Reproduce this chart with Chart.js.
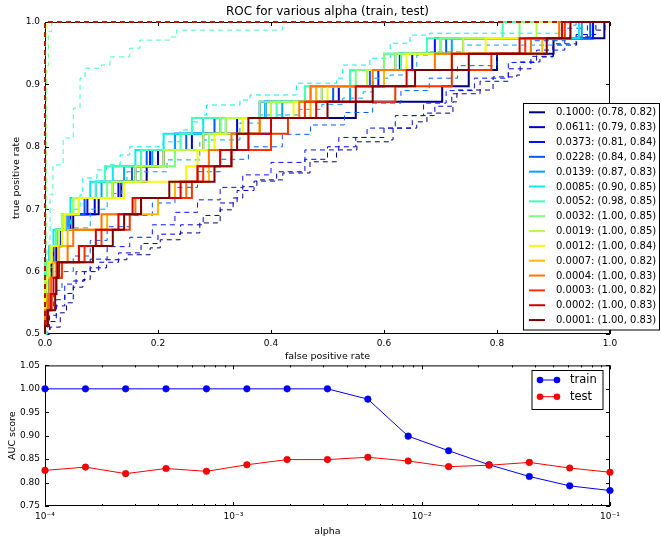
<!DOCTYPE html>
<html>
<head>
<meta charset="utf-8">
<script src="https://cdn.jsdelivr.net/npm/chart.js@4.4.1/dist/chart.umd.min.js"></script>
<style>
  html, body { margin: 0; padding: 0; background: #fff; }
  #wrap { position: relative; width: 661px; height: 538px; }
  #roc { position: absolute; left: 0; top: 0; }
  #auc { position: absolute; left: 0; top: 355px; }
</style>
</head>
<body>
<div id="wrap">
  <canvas id="roc" width="661" height="370"></canvas>
  <canvas id="auc" width="661" height="183"></canvas>
</div>
<script>
const FONT = 'DejaVu Sans';

// alphas, ascending (legend lists them descending)
const ALPHAS = [0.0001, 0.000164, 0.000268, 0.000439, 0.00072, 0.00118, 0.00193, 0.00316,
  0.00518, 0.00848, 0.0139, 0.0228, 0.0373, 0.0611, 0.1];
const TRAIN_AUC = [1.0, 1.0, 1.0, 1.0, 1.0, 1.0, 1.0, 1.0, 0.978, 0.899, 0.868, 0.838, 0.813, 0.793, 0.783];
const TEST_AUC = [0.826, 0.833, 0.819, 0.830, 0.824, 0.838, 0.849, 0.849, 0.854, 0.846, 0.834, 0.837, 0.843, 0.831, 0.822];

// test-set tpr steps visible above 0.5
const TPR_LEVELS = [0.513, 0.538, 0.564, 0.590, 0.615, 0.641, 0.667, 0.692, 0.718, 0.744,
  0.769, 0.795, 0.821, 0.846, 0.872, 0.897, 0.923, 0.949, 0.974, 1.000];

// fpr at which each test curve reaches TPR_LEVELS[k]
const TEST_FPR_0001 = [0, 0.005, 0.018, 0.02, 0.022, 0.085, 0.12, 0.14, 0.17, 0.22, 0.3, 0.33, 0.34, 0.36, 0.5, 0.58, 0.655, 0.75, 0.888, 0.93];
const TEST_FPR_0002 = [0, 0.004, 0.01, 0.015, 0.025, 0.06, 0.09, 0.13, 0.155, 0.24, 0.27, 0.31, 0.36, 0.4, 0.48, 0.55, 0.64, 0.72, 0.84, 0.915];
const TEST_FPR_0003 = [0, 0.005, 0.012, 0.02, 0.03, 0.07, 0.1, 0.15, 0.17, 0.26, 0.28, 0.33, 0.4, 0.43, 0.46, 0.62, 0.72, 0.79, 0.85, 0.92];
const TEST_FPR_0004 = [0, 0, 0.005, 0.01, 0.02, 0.04, 0.05, 0.1, 0.16, 0.25, 0.27, 0.29, 0.33, 0.38, 0.45, 0.47, 0.58, 0.69, 0.86, 0.91];
const TEST_FPR_0007 = [0, 0, 0.004, 0.008, 0.015, 0.025, 0.04, 0.11, 0.2, 0.23, 0.29, 0.31, 0.36, 0.38, 0.47, 0.48, 0.6, 0.72, 0.88, 0.915];
const TEST_FPR_0012 = [0, 0, 0, 0.004, 0.008, 0.012, 0.03, 0.035, 0.06, 0.14, 0.25, 0.27, 0.3, 0.35, 0.44, 0.5, 0.6, 0.64, 0.78, 0.92];
const TEST_FPR_0019 = [0, 0, 0, 0, 0.005, 0.01, 0.025, 0.03, 0.05, 0.12, 0.16, 0.21, 0.28, 0.32, 0.4, 0.49, 0.57, 0.62, 0.74, 0.87];
const TEST_FPR_0032 = [0, 0, 0, 0, 0.004, 0.01, 0.02, 0.035, 0.06, 0.11, 0.17, 0.23, 0.29, 0.31, 0.38, 0.48, 0.55, 0.6, 0.7, 0.84];
const TEST_FPR_0052 = [0, 0, 0, 0, 0, 0.01, 0.02, 0.03, 0.05, 0.09, 0.106, 0.17, 0.24, 0.26, 0.41, 0.46, 0.54, 0.63, 0.676, 0.81];
const TEST_FPR_0085 = [0, 0, 0, 0, 0.004, 0.008, 0.015, 0.03, 0.045, 0.08, 0.12, 0.16, 0.21, 0.28, 0.39, 0.47, 0.54, 0.6, 0.7, 0.945];
const TEST_FPR_0139 = [0, 0, 0, 0.004, 0.006, 0.01, 0.02, 0.04, 0.06, 0.1, 0.14, 0.19, 0.23, 0.32, 0.42, 0.54, 0.6, 0.63, 0.72, 0.95];
const TEST_FPR_0228 = [0, 0, 0, 0.004, 0.005, 0.008, 0.02, 0.035, 0.07, 0.09, 0.154, 0.18, 0.25, 0.3, 0.39, 0.51, 0.575, 0.62, 0.71, 0.965];
const TEST_FPR_0373 = [0, 0, 0.004, 0.005, 0.007, 0.01, 0.02, 0.04, 0.075, 0.12, 0.16, 0.186, 0.23, 0.31, 0.38, 0.49, 0.59, 0.628, 0.69, 0.97];
const TEST_FPR_0611 = [0, 0, 0.004, 0.006, 0.01, 0.015, 0.027, 0.045, 0.088, 0.13, 0.17, 0.2, 0.26, 0.34, 0.39, 0.52, 0.6, 0.65, 0.74, 0.97];
const TEST_FPR_1000 = [0, 0.004, 0.006, 0.01, 0.012, 0.02, 0.03, 0.05, 0.095, 0.135, 0.18, 0.21, 0.28, 0.4, 0.55, 0.703, 0.75, 0.8, 0.9, 0.99];

// train curves as [fpr, tpr] corners
const TRAIN_ROC_0001 = [[0, 0.5], [0, 1], [1, 1]];
const TRAIN_ROC_0002 = [[0, 0.5], [0, 1], [1, 1]];
const TRAIN_ROC_0003 = [[0, 0.5], [0, 1], [1, 1]];
const TRAIN_ROC_0004 = [[0, 0.5], [0, 1], [1, 1]];
const TRAIN_ROC_0007 = [[0, 0.5], [0, 1], [1, 1]];
const TRAIN_ROC_0012 = [[0, 0.5], [0, 1], [1, 1]];
const TRAIN_ROC_0019 = [[0, 0.5], [0.001, 0.97], [0.002, 1], [1, 1]];
const TRAIN_ROC_0032 = [[0, 0.5], [0.003, 0.93], [0.006, 0.985], [0.012, 1], [1, 1]];
const TRAIN_ROC_0052 = [[0, 0.5], [0.003, 0.62], [0.009, 0.723], [0.014, 0.771], [0.032, 0.814], [0.05, 0.862],
  [0.062, 0.91], [0.071, 0.926], [0.1, 0.931], [0.115, 0.944], [0.15, 0.958], [0.168, 0.971], [0.221, 0.976],
  [0.233, 0.987], [0.42, 1.0], [1, 1]];
const TRAIN_ROC_0085 = [[0, 0.5], [0.004, 0.607], [0.014, 0.639], [0.03, 0.67], [0.045, 0.70], [0.062, 0.723],
  [0.067, 0.75], [0.092, 0.763], [0.109, 0.771], [0.133, 0.787], [0.15, 0.8], [0.209, 0.808], [0.239, 0.827],
  [0.262, 0.84], [0.28, 0.851], [0.286, 0.867], [0.345, 0.875], [0.363, 0.883], [0.445, 0.902], [0.516, 0.91],
  [0.527, 0.931], [0.575, 0.942], [0.611, 0.966], [0.646, 0.979], [0.681, 0.982], [0.912, 0.987], [0.93, 1.0], [1, 1]];
const TRAIN_ROC_0139 = [[0, 0.5], [0.003, 0.56], [0.01, 0.6], [0.025, 0.64], [0.05, 0.67], [0.08, 0.7], [0.11, 0.725],
  [0.136, 0.744], [0.145, 0.76], [0.216, 0.779], [0.274, 0.811], [0.345, 0.838], [0.381, 0.851], [0.45, 0.86],
  [0.49, 0.868], [0.527, 0.878], [0.563, 0.888], [0.581, 0.91], [0.611, 0.915], [0.634, 0.923], [0.658, 0.947],
  [0.681, 0.952], [0.74, 0.963], [0.929, 0.995], [0.94, 1.0], [1, 1]];
const TRAIN_ROC_0228 = [[0, 0.5], [0.005, 0.54], [0.015, 0.57], [0.03, 0.6], [0.05, 0.625], [0.08, 0.65], [0.11, 0.672],
  [0.15, 0.69], [0.19, 0.71], [0.23, 0.735], [0.27, 0.76], [0.31, 0.78], [0.36, 0.8], [0.42, 0.82], [0.47, 0.835],
  [0.53, 0.855], [0.58, 0.87], [0.63, 0.89], [0.68, 0.91], [0.73, 0.93], [0.8, 0.95], [0.86, 0.97], [0.92, 0.99],
  [0.95, 1.0], [1, 1]];
const TRAIN_ROC_0373 = [[0, 0.5], [0.008, 0.53], [0.02, 0.555], [0.035, 0.58], [0.055, 0.6], [0.08, 0.62], [0.11, 0.64],
  [0.15, 0.655], [0.19, 0.675], [0.23, 0.695], [0.27, 0.715], [0.31, 0.735], [0.35, 0.755], [0.4, 0.775], [0.46, 0.795],
  [0.52, 0.815], [0.57, 0.83], [0.62, 0.85], [0.67, 0.87], [0.71, 0.89], [0.76, 0.91], [0.82, 0.935], [0.87, 0.955],
  [0.92, 0.975], [0.96, 1.0], [1, 1]];
const TRAIN_ROC_0611 = [[0, 0.5], [0.008, 0.52], [0.02, 0.545], [0.035, 0.565], [0.05, 0.585], [0.07, 0.6], [0.095, 0.615],
  [0.13, 0.63], [0.17, 0.645], [0.2, 0.66], [0.24, 0.675], [0.28, 0.69], [0.31, 0.71], [0.34, 0.73], [0.37, 0.745],
  [0.41, 0.76], [0.46, 0.78], [0.5, 0.8], [0.55, 0.815], [0.6, 0.83], [0.65, 0.85], [0.69, 0.865], [0.72, 0.885],
  [0.77, 0.905], [0.82, 0.925], [0.86, 0.945], [0.9, 0.965], [0.94, 0.98], [0.975, 1.0], [1, 1]];
const TRAIN_ROC_1000 = [[0, 0.5], [0.009, 0.511], [0.027, 0.534], [0.038, 0.55], [0.05, 0.575], [0.067, 0.587],
  [0.08, 0.606], [0.109, 0.619], [0.145, 0.627], [0.186, 0.638], [0.204, 0.651], [0.239, 0.662], [0.274, 0.678],
  [0.31, 0.699], [0.333, 0.718], [0.35, 0.736], [0.375, 0.747], [0.421, 0.758], [0.469, 0.776], [0.516, 0.795],
  [0.552, 0.808], [0.611, 0.811], [0.616, 0.83], [0.658, 0.84], [0.676, 0.854], [0.722, 0.872], [0.729, 0.891],
  [0.793, 0.912], [0.835, 0.915], [0.841, 0.936], [0.876, 0.944], [0.899, 0.963], [0.941, 0.976], [0.97, 0.987],
  [0.991, 1.0], [1, 1]];

const TEST_FPR = [TEST_FPR_0001, TEST_FPR_0002, TEST_FPR_0003, TEST_FPR_0004, TEST_FPR_0007, TEST_FPR_0012,
  TEST_FPR_0019, TEST_FPR_0032, TEST_FPR_0052, TEST_FPR_0085, TEST_FPR_0139, TEST_FPR_0228, TEST_FPR_0373,
  TEST_FPR_0611, TEST_FPR_1000];
const TRAIN_ROC = [TRAIN_ROC_0001, TRAIN_ROC_0002, TRAIN_ROC_0003, TRAIN_ROC_0004, TRAIN_ROC_0007, TRAIN_ROC_0012,
  TRAIN_ROC_0019, TRAIN_ROC_0032, TRAIN_ROC_0052, TRAIN_ROC_0085, TRAIN_ROC_0139, TRAIN_ROC_0228, TRAIN_ROC_0373,
  TRAIN_ROC_0611, TRAIN_ROC_1000];

const ROC_X_TICKS = [0, 0.2, 0.4, 0.6, 0.8, 1.0];
const ROC_Y_TICKS = [0.5, 0.6, 0.7, 0.8, 0.9, 1.0];
const AUC_X_TICKS = [1e-4, 1e-3, 1e-2, 1e-1];
const AUC_X_LABELS = ['10\u207B\u2074', '10\u207B\u00B3', '10\u207B\u00B2', '10\u207B\u00B9'];
const AUC_Y_TICKS = [0.75, 0.80, 0.85, 0.90, 0.95, 1.00, 1.05];

// matplotlib 'jet'
const JET = {
  r: [[0, 0], [0.35, 0], [0.66, 1], [0.89, 1], [1, 0.5]],
  g: [[0, 0], [0.125, 0], [0.375, 1], [0.64, 1], [0.91, 0], [1, 0]],
  b: [[0, 0.5], [0.11, 1], [0.34, 1], [0.65, 0], [1, 0]],
};
const seg = (pts, t) => {
  for (let i = 1; i < pts.length; i++) {
    if (t <= pts[i][0]) {
      const [x0, y0] = pts[i - 1], [x1, y1] = pts[i];
      return y0 + (y1 - y0) * (t - x0) / (x1 - x0);
    }
  }
  return pts[pts.length - 1][1];
};
const jet = (t) => `rgb(${Math.round(255 * seg(JET.r, t))},${Math.round(255 * seg(JET.g, t))},${Math.round(255 * seg(JET.b, t))})`;

// alpha index 0 (0.0001) -> dark red, 14 (0.1) -> dark blue
const colorFor = (i) => jet((ALPHAS.length - 1 - i) / (ALPHAS.length - 1));
const labelFor = (i) => `${ALPHAS[i].toFixed(4)}: (${TRAIN_AUC[i].toFixed(2)}, ${TEST_AUC[i].toFixed(2)})`;

// frame + inward ticks, matplotlib classic look
const frameTicks = {
  id: 'frameTicks',
  beforeDatasetsDraw(chart, args, opts) {
    const { ctx, chartArea: a, scales } = chart;
    ctx.save();
    ctx.strokeStyle = '#000';
    ctx.lineWidth = 1;
    ctx.beginPath();
    const mark = (x1, y1, x2, y2) => { ctx.moveTo(x1, y1); ctx.lineTo(x2, y2); };
    const xTick = (v, len) => {
      const px = Math.round(scales.x.getPixelForValue(v)) + 0.5;
      mark(px, a.bottom, px, a.bottom - len);
      mark(px, a.top, px, a.top + len);
    };
    scales.x.ticks.forEach(t => xTick(t.value, 4));
    (opts.minorX || []).forEach(v => xTick(v, 2));
    scales.y.ticks.forEach(t => {
      const py = Math.round(scales.y.getPixelForValue(t.value)) + 0.5;
      mark(a.left, py, a.left + 4, py);
      mark(a.right, py, a.right - 4, py);
    });
    ctx.stroke();
    ctx.strokeRect(a.left + 0.5, a.top + 0.5, a.right - a.left - 1, a.bottom - a.top - 1);
    ctx.restore();
  }
};

const rocTitle = {
  id: 'rocTitle',
  afterDraw(chart) {
    const { ctx, chartArea: a } = chart;
    ctx.save();
    ctx.fillStyle = '#000';
    ctx.font = `12px "${FONT}"`;
    ctx.textAlign = 'center';
    ctx.textBaseline = 'middle';
    ctx.fillText('ROC for various alpha (train, test)', (a.left + a.right) / 2, 12);
    ctx.restore();
  }
};

const rocLegend = {
  id: 'rocLegend',
  afterDraw(chart) {
    const ctx = chart.ctx;
    ctx.save();
    ctx.fillStyle = '#fff';
    ctx.fillRect(523.5, 103.5, 136, 226.5);
    ctx.strokeStyle = '#000';
    ctx.lineWidth = 1;
    ctx.strokeRect(523.5, 103.5, 136, 226.5);
    ctx.font = `10px "${FONT}"`;
    ctx.textBaseline = 'middle';
    ctx.textAlign = 'left';
    for (let row = 0; row < ALPHAS.length; row++) {
      const i = ALPHAS.length - 1 - row;
      const y = 112.3 + row * 14.84;
      ctx.strokeStyle = colorFor(i);
      ctx.lineWidth = 2;
      ctx.beginPath();
      ctx.moveTo(529, y);
      ctx.lineTo(545, y);
      ctx.stroke();
      ctx.fillStyle = '#000';
      ctx.fillText(labelFor(i), 556, y + 0.5);
    }
    ctx.restore();
  }
};

const aucLegend = {
  id: 'aucLegend',
  afterDraw(chart) {
    const ctx = chart.ctx;
    ctx.save();
    ctx.fillStyle = '#fff';
    ctx.fillRect(532, 15.5, 71, 39);
    ctx.strokeStyle = '#000';
    ctx.lineWidth = 1;
    ctx.strokeRect(532, 15.5, 71, 39);
    ctx.font = `11.5px "${FONT}"`;
    ctx.textBaseline = 'middle';
    chart.data.datasets.slice().reverse().forEach((ds, row) => {
      const y = 25 + row * 16.7;
      ctx.strokeStyle = ds.borderColor;
      ctx.lineWidth = 1;
      ctx.beginPath();
      ctx.moveTo(540, y);
      ctx.lineTo(557, y);
      ctx.stroke();
      ctx.fillStyle = ds.pointBackgroundColor;
      [540, 557].forEach(x => {
        ctx.beginPath();
        ctx.arc(x, y, 3.3, 0, Math.PI * 2);
        ctx.fill();
      });
      ctx.fillStyle = '#000';
      ctx.fillText(ds.label, 570, y);
    });
    ctx.restore();
  }
};

// ROC chart datasets: 0.0001 first so it is drawn on top
const rocDatasets = [];
ALPHAS.forEach((alpha, i) => {
  const color = colorFor(i);
  const testPoints = [{ x: 0, y: 0.5 }]
    .concat(TPR_LEVELS.map((tpr, k) => ({ x: TEST_FPR[i][k], y: tpr })))
    .concat([{ x: 1, y: 1 }]);
  rocDatasets.push({
    label: labelFor(i),
    data: testPoints,
    borderColor: color,
    borderWidth: 2,
    stepped: true,
    pointRadius: 0,
    fill: false,
    clip: 1,
  });
  rocDatasets.push({
    label: 'train ' + alpha,
    data: TRAIN_ROC[i].map(([x, y]) => ({ x, y })),
    borderColor: color,
    borderWidth: 1,
    borderDash: [5, 4],
    stepped: true,
    pointRadius: 0,
    fill: false,
    clip: 1,
  });
});

const TICK_FONT = { family: FONT, size: 9 };
const LABEL_FONT = { family: FONT, size: 9.5 };
const NO_GRID = { display: false, drawTicks: false };

new Chart(document.getElementById('roc'), {
  type: 'line',
  data: { datasets: rocDatasets },
  options: {
    responsive: false,
    animation: false,
    events: [],
    layout: { padding: { left: 0, right: 51, top: 22, bottom: 0 } },
    plugins: {
      legend: { display: false },
      tooltip: { enabled: false },
      title: { display: false },
    },
    scales: {
      x: {
        type: 'linear',
        min: 0,
        max: 1,
        afterBuildTicks: (s) => { s.ticks = ROC_X_TICKS.map(v => ({ value: v })); },
        afterFit: (s) => { s.height = 36; },
        grid: NO_GRID,
        border: { display: false },
        ticks: {
          padding: 4, color: '#000', font: TICK_FONT, maxRotation: 0, autoSkip: false,
          callback: (v) => Number(v).toFixed(1),
        },
        title: { display: true, text: 'false positive rate', color: '#000', font: LABEL_FONT, padding: { top: 0, bottom: 7.6 } },
      },
      y: {
        type: 'linear',
        min: 0.5,
        max: 1.0,
        afterBuildTicks: (s) => { s.ticks = ROC_Y_TICKS.map(v => ({ value: v })); },
        afterFit: (s) => { s.width = 45; },
        grid: NO_GRID,
        border: { display: false },
        ticks: {
          padding: 5, color: '#000', font: TICK_FONT, autoSkip: false,
          callback: (v) => Number(v).toFixed(1),
        },
        title: { display: true, text: 'true positive rate', color: '#000', font: LABEL_FONT, padding: { top: 11, bottom: 0 } },
      },
    },
  },
  plugins: [frameTicks, rocTitle, rocLegend],
});

const minorLog = [];
AUC_X_TICKS.slice(0, -1).forEach(d => { for (let m = 2; m <= 9; m++) minorLog.push(m * d); });

new Chart(document.getElementById('auc'), {
  type: 'line',
  data: {
    datasets: [
      {
        label: 'test',
        data: ALPHAS.map((a, i) => ({ x: a, y: TEST_AUC[i] })),
        borderColor: '#ff0000',
        borderWidth: 1,
        pointRadius: 3.3,
        pointBackgroundColor: '#ff0000',
        pointBorderColor: '#cc0000',
        pointBorderWidth: 0.5,
        fill: false,
        tension: 0,
        clip: 5,
      },
      {
        label: 'train',
        data: ALPHAS.map((a, i) => ({ x: a, y: TRAIN_AUC[i] })),
        borderColor: '#0000ff',
        borderWidth: 1,
        pointRadius: 3.3,
        pointBackgroundColor: '#0000ff',
        pointBorderColor: '#0000cc',
        pointBorderWidth: 0.5,
        fill: false,
        tension: 0,
        clip: 5,
      },
    ],
  },
  options: {
    responsive: false,
    animation: false,
    events: [],
    layout: { padding: { left: 0, right: 51, top: 9, bottom: 0 } },
    plugins: {
      legend: { display: false },
      tooltip: { enabled: false },
      title: { display: false },
      frameTicks: { minorX: minorLog },
    },
    scales: {
      x: {
        type: 'logarithmic',
        min: 1e-4,
        max: 1e-1,
        afterBuildTicks: (s) => { s.ticks = AUC_X_TICKS.map(v => ({ value: v })); },
        afterFit: (s) => { s.height = 32; },
        grid: NO_GRID,
        border: { display: false },
        ticks: {
          padding: 5, color: '#000', font: TICK_FONT, maxRotation: 0, autoSkip: false,
          callback: (v, idx) => AUC_X_LABELS[idx],
        },
        title: { display: true, text: 'alpha', color: '#000', font: LABEL_FONT, padding: { top: 0, bottom: 0.6 } },
      },
      y: {
        type: 'linear',
        min: 0.75,
        max: 1.05,
        afterBuildTicks: (s) => { s.ticks = AUC_Y_TICKS.map(v => ({ value: v })); },
        afterFit: (s) => { s.width = 45; },
        grid: NO_GRID,
        border: { display: false },
        ticks: {
          padding: 5, color: '#000', font: TICK_FONT, autoSkip: false,
          callback: (v) => Number(v).toFixed(2),
        },
        title: { display: true, text: 'AUC score', color: '#000', font: LABEL_FONT, padding: { top: 6.8, bottom: 0 } },
      },
    },
  },
  plugins: [frameTicks, aucLegend],
});
</script>
</body>
</html>
